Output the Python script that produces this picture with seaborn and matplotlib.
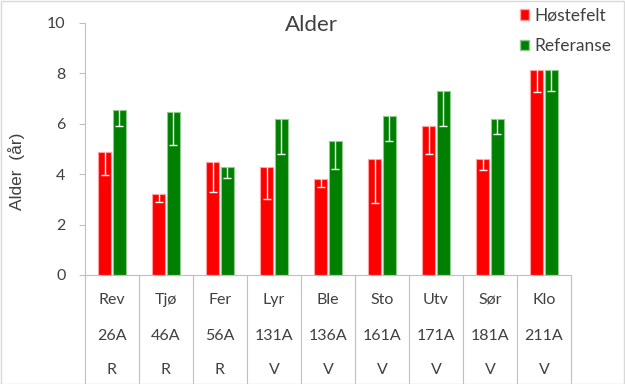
import matplotlib
matplotlib.use("Agg")
import matplotlib.pyplot as plt
import matplotlib.transforms as mtransforms
from matplotlib.patches import Rectangle
import numpy as np
import pandas as pd
import seaborn as sns

# ---- data ----
names = ["Rev", "Tjø", "Fer", "Lyr", "Ble", "Sto", "Utv", "Sør", "Klo"]
codes = ["26A", "46A", "56A", "131A", "136A", "161A", "171A", "181A", "211A"]
groups = ["R", "R", "R", "V", "V", "V", "V", "V", "V"]
series = ["Høstefelt", "Referanse"]
hostefelt = [4.9, 3.2, 4.5, 4.3, 3.8, 4.6, 5.9, 4.6, 8.15]
referanse = [6.55, 6.45, 4.3, 6.2, 5.3, 6.3, 7.3, 6.2, 8.15]
hostefelt_err = [0.95, 0.3, 1.2, 1.3, 0.3, 1.75, 1.1, 0.45, 0.9]
referanse_err = [0.65, 1.3, 0.45, 1.4, 1.1, 1.0, 1.4, 0.6, 0.85]
yticks = [0, 2, 4, 6, 8, 10]

df = pd.DataFrame({
    "cat": names * 2,
    "series": [series[0]] * len(names) + [series[1]] * len(names),
    "value": hostefelt + referanse,
})
errs = hostefelt_err + referanse_err

sns.set_style("white")
plt.rcParams["font.family"] = ["Lato", "DejaVu Sans"]

W, H = 625, 384
fig = plt.figure(figsize=(W / 100, H / 100), dpi=100)
ax = fig.add_axes([85 / W, 1 - 275 / H, (571 - 85) / W, (275 - 23) / H])

palette = {series[0]: "#ff0000", series[1]: "#008000"}
sns.barplot(data=df, x="cat", y="value", hue="series", order=names,
            hue_order=series, palette=palette, width=0.555, gap=0.18,
            saturation=1, legend=True, ax=ax, err_kws={"linewidth": 0})

edgecols = {"#ff0000": "#ffa0a0", "#008000": "#90c890"}
bars = [p for p in ax.patches if p.get_height() > 0 and p.get_width() < 1]
# patches are ordered by hue then category
for i, p in enumerate(bars[:len(errs)]):
    fc = matplotlib.colors.to_hex(p.get_facecolor())
    p.set_edgecolor(edgecols.get(fc, "white"))
    p.set_linewidth(0.8)
    xc = p.get_x() + p.get_width() / 2
    top = p.get_height()
    low = top - errs[i]
    ax.vlines(xc, low, top, colors="white", linewidth=1.0, zorder=5)
    ax.plot([xc], [low], marker="_", markersize=5.5, markeredgewidth=1.0,
            color="white", zorder=5)

ax.set_ylim(0, 10)
ax.set_xlim(-0.5, len(names) - 0.5)
ax.set_yticks(yticks)
ax.set_yticklabels([str(v) for v in yticks], fontsize=11.5, color="#404040")
ax.tick_params(axis="y", length=4, color="#bfbfbf", width=0.8, pad=10,
               left=True)
ax.set_xticks(np.arange(-0.5, len(names), 1.0))
ax.set_xticklabels([])
ax.tick_params(axis="x", length=109 * 0.72, color="#bfbfbf", width=0.8,
               bottom=True, direction="out")
ax.set_xlabel("")
ax.set_ylabel("")
for s in ["top", "right"]:
    ax.spines[s].set_visible(False)
for s in ["left", "bottom"]:
    ax.spines[s].set_color("#bfbfbf")
    ax.spines[s].set_linewidth(0.8)

# category table text
trans = mtransforms.blended_transform_factory(ax.transData, fig.transFigure)
for i in range(len(names)):
    for txt, ypx in zip([names[i], codes[i], groups[i]], [300, 336, 370]):
        ax.text(i, 1 - ypx / H, txt, transform=trans, ha="center",
                va="center", fontsize=11.5, color="#404040", clip_on=False)

# legend
leg = ax.get_legend()
if leg is not None:
    leg.remove()
handles = [Rectangle((0, 0), 1, 1, facecolor=palette[s],
                     edgecolor=edgecols[palette[s]]) for s in series]
fig.legend(handles, series, loc="upper left",
           bbox_to_anchor=(504 / W, 1 + 8 / H),
           frameon=False, fontsize=12.5, handlelength=0.55, handleheight=0.55,
           handletextpad=0.3, labelspacing=0.85, labelcolor="#404040")

# title and y label
fig.text(311 / W, 1 - 25 / H, "Alder", ha="center", va="center",
         fontsize=16, color="#404040")
fig.text(17 / W, 1 - 171 / H, "Alder  (år)", ha="center", va="center",
         rotation=90, fontsize=12.5, color="#404040",
         family=["Liberation Sans", "DejaVu Sans"])

# chart border
fig.patches.append(Rectangle((0.5 / W, 0.5 / H), 1 - 1.5 / W, 1 - 1.5 / H,
                             transform=fig.transFigure, fill=False,
                             edgecolor="#d9d9d9", linewidth=1.0))

fig.savefig("out.png", dpi=100)
